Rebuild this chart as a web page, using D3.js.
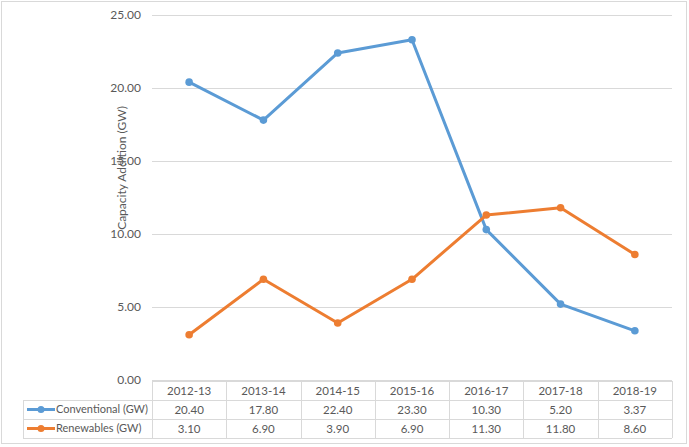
<!DOCTYPE html>
<html>
<head>
<meta charset="utf-8">
<script src="https://cdn.jsdelivr.net/npm/d3@7"></script>
<style>
  body { margin: 0; background: #fff; }
  svg { display: block; font-family: Lato, "Open Sans", sans-serif; }
</style>
</head>
<body>
<svg width="689" height="447"></svg>
<script>
const years = ["2012-13", "2013-14", "2014-15", "2015-16", "2016-17", "2017-18", "2018-19"];
const conventional = [20.40, 17.80, 22.40, 23.30, 10.30, 5.20, 3.37];
const renewables = [3.10, 6.90, 3.90, 6.90, 11.30, 11.80, 8.60];
const yTicks = [0, 5, 10, 15, 20, 25];

const series = [
  { name: "Conventional (GW)", values: conventional, color: "#5B9BD5" },
  { name: "Renewables (GW)", values: renewables, color: "#ED7D31" }
];

const svg = d3.select("svg");
const fs = 11.5;

// outer chart border
svg.append("rect")
  .attr("x", 1.5).attr("y", 1.5)
  .attr("width", 685).attr("height", 442)
  .attr("fill", "#fff")
  .attr("stroke", "#d9d9d9");

const plot = { left: 152, right: 672, top: 15, bottom: 380 };

const x = d3.scaleBand().domain(years).range([plot.left, plot.right]);
const y = d3.scaleLinear().domain([0, 25]).range([plot.bottom, plot.top]);

// gridlines
svg.append("g")
  .selectAll("line")
  .data(yTicks)
  .enter()
  .append("line")
  .attr("x1", plot.left).attr("x2", plot.right)
  .attr("y1", d => y(d) + 0.5).attr("y2", d => y(d) + 0.5)
  .attr("stroke", "#d9d9d9");

// y tick labels
svg.append("g")
  .selectAll("text")
  .data(yTicks)
  .enter()
  .append("text")
  .attr("x", 141)
  .attr("y", d => y(d))
  .attr("dy", "0.35em")
  .attr("text-anchor", "end")
  .attr("font-size", 12)
  .attr("fill", "#595959")
  .text(d => d.toFixed(2));

// y axis title
svg.append("text")
  .attr("transform", "translate(126,168) rotate(-90)")
  .attr("text-anchor", "middle")
  .attr("font-size", 12)
  .attr("fill", "#595959")
  .text("Capacity Addition (GW)");

// lines
const line = d3.line()
  .x((d, i) => x(years[i]) + x.bandwidth() / 2)
  .y(d => y(d));

series.forEach(s => {
  svg.append("path")
    .datum(s.values)
    .attr("fill", "none")
    .attr("stroke", s.color)
    .attr("stroke-width", 3)
    .attr("stroke-linejoin", "round")
    .attr("d", line);

  svg.append("g")
    .selectAll("circle")
    .data(s.values)
    .enter()
    .append("circle")
    .attr("cx", (d, i) => x(years[i]) + x.bandwidth() / 2)
    .attr("cy", d => y(d))
    .attr("r", 3.8)
    .attr("fill", s.color);
});

/* -----------------------------
   Data table
----------------------------- */

const rowH = 19;
const tableTop = plot.bottom + 1;
const legendLeft = 23;
const grid = svg.append("g").attr("stroke", "#d9d9d9").attr("fill", "none");

// horizontal lines
grid.append("line")
  .attr("x1", plot.left).attr("x2", plot.right)
  .attr("y1", tableTop + 0.5).attr("y2", tableTop + 0.5);
[1, 2, 3].forEach(r => {
  grid.append("line")
    .attr("x1", legendLeft).attr("x2", plot.right)
    .attr("y1", tableTop + r * rowH + 0.5).attr("y2", tableTop + r * rowH + 0.5);
});

// vertical lines
grid.append("line")
  .attr("x1", legendLeft + 0.5).attr("x2", legendLeft + 0.5)
  .attr("y1", tableTop + rowH).attr("y2", tableTop + 3 * rowH);
years.concat(["end"]).forEach((yr, i) => {
  const xx = i < years.length ? x(yr) : plot.right;
  grid.append("line")
    .attr("x1", Math.round(xx) + 0.5).attr("x2", Math.round(xx) + 0.5)
    .attr("y1", tableTop).attr("y2", tableTop + 3 * rowH);
});

// header
svg.append("g")
  .selectAll("text")
  .data(years)
  .enter()
  .append("text")
  .attr("x", d => x(d) + x.bandwidth() / 2)
  .attr("y", tableTop + rowH / 2)
  .attr("dy", "0.35em")
  .attr("text-anchor", "middle")
  .attr("font-size", fs)
  .attr("fill", "#595959")
  .text(d => d);

series.forEach((s, r) => {
  const cy = tableTop + (r + 1) * rowH + rowH / 2;

  // legend key
  svg.append("line")
    .attr("x1", 27).attr("x2", 55)
    .attr("y1", cy).attr("y2", cy)
    .attr("stroke", s.color)
    .attr("stroke-width", 3);
  svg.append("circle")
    .attr("cx", 41).attr("cy", cy)
    .attr("r", 3.5)
    .attr("fill", s.color);
  svg.append("text")
    .attr("x", 56)
    .attr("y", cy)
    .attr("dy", "0.35em")
    .attr("font-size", 11)
    .attr("fill", "#595959")
    .text(s.name);

  svg.append("g")
    .selectAll("text")
    .data(s.values)
    .enter()
    .append("text")
    .attr("x", (d, i) => x(years[i]) + x.bandwidth() / 2)
    .attr("y", cy)
    .attr("dy", "0.35em")
    .attr("text-anchor", "middle")
    .attr("font-size", fs)
    .attr("fill", "#595959")
    .text(d => d.toFixed(2));
});
</script>
</body>
</html>
